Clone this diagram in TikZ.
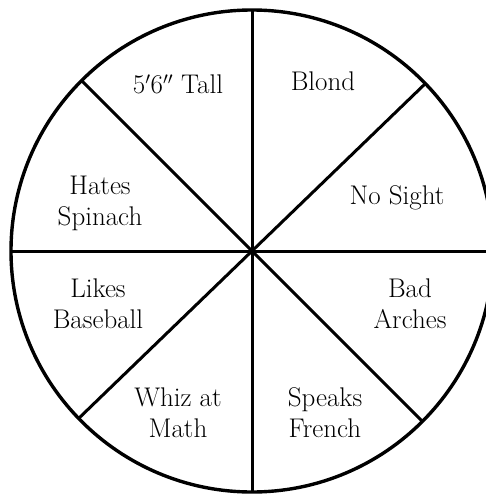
\documentclass[tikz,border=0pt]{standalone}
\begin{document}
\begin{tikzpicture}[x=1pt,y=-1pt,
  wheelstyle/.style={circle, draw, line width=3.4pt, inner sep=0pt, outer sep=0pt, minimum size=482pt},
  spoke/.style={line width=3pt},
  lab/.style={font=\fontsize{27}{31}\selectfont, align=center, inner sep=0pt}]
\useasboundingbox (0,0) rectangle (486,496);
\fill[white] (0,0) rectangle (486,496);
\node[wheelstyle] (wheel) at (252,251) {};
\draw[spoke] (wheel.90) -- (wheel.270);
\draw[spoke] (wheel.0) -- (wheel.180);
\draw[spoke] (wheel.44) -- (wheel.224);
\draw[spoke] (wheel.135) -- (wheel.315);
\node[lab] (tall) at (178,84) {5$'$6$''$ Tall};
\node[lab] (blond) at (323,81) {Blond};
\node[lab] (sight) at (397,198) {No Sight};
\node[lab] (spinach) at (100,203) {Hates\\Spinach};
\node[lab] (baseball) at (98,304) {Likes\\Baseball};
\node[lab] (arches) at (410,304) {Bad\\Arches};
\node[lab] (math) at (178,413) {Whiz at\\Math};
\node[lab] (french) at (325,413) {Speaks\\French};
\end{tikzpicture}
\end{document}
